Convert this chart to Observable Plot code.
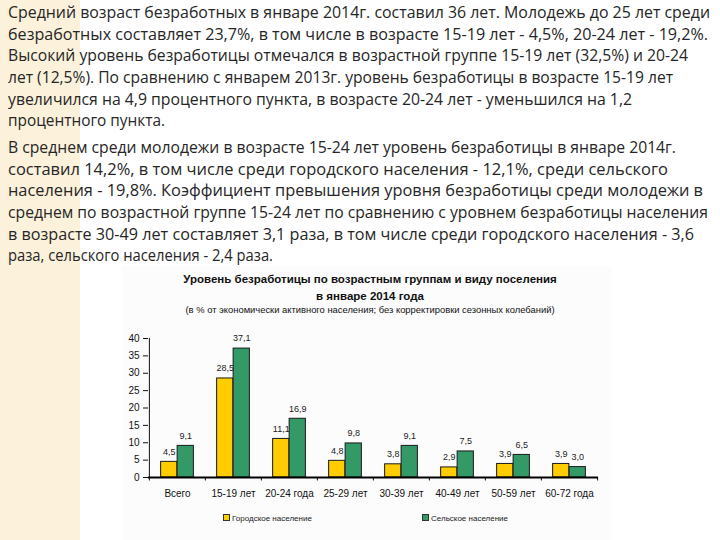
<!DOCTYPE html>
<html><head><meta charset="utf-8">
<script src="https://cdn.jsdelivr.net/npm/d3@7"></script>
<script src="https://cdn.jsdelivr.net/npm/@observablehq/plot@0.6"></script>
<style>
html,body{margin:0;padding:0;background:#fff;}
#page{position:relative;width:720px;height:540px;overflow:hidden;background:#fff;}
#strip{position:absolute;left:0;top:0;width:80px;height:540px;background:#fcf1db;}
#chartbg{position:absolute;left:122px;top:266px;width:490px;height:274px;background:#fcfcfc;}
.ln{position:absolute;left:8px;white-space:nowrap;font-family:"Open Sans",sans-serif;font-size:16px;line-height:21.6px;color:#262626;transform-origin:0 0;}
.ct{position:absolute;left:0;width:740px;text-align:center;font-family:"Liberation Sans",Arial,sans-serif;color:#111;white-space:nowrap;}
#chart{position:absolute;left:0;top:320px;}
.lg{position:absolute;top:513px;font-family:"Liberation Sans",Arial,sans-serif;font-size:8px;color:#222;white-space:nowrap;line-height:12px;}
.sw{display:inline-block;width:5px;height:5px;border:1px solid #333;margin-right:2px;vertical-align:0px;}
</style></head>
<body><div id="page">
<div id="strip"></div>
<div id="chartbg"></div>
<div id="text"></div>
<div class="ct" style="top:273px;font-size:11.5px;font-weight:bold;">Уровень безработицы по возрастным группам и виду поселения</div>
<div class="ct" style="top:290px;font-size:11.5px;font-weight:bold;">в январе 2014 года</div>
<div class="ct" style="top:304px;font-size:9.4px;">(в % от экономически активного населения; без корректировки сезонных колебаний)</div>
<div id="chart"></div>
<div id="legend"></div>
</div>
<script>
// ---- data ----
const categories = ["Всего", "15-19 лет", "20-24 года", "25-29 лет", "30-39 лет", "40-49 лет", "50-59 лет", "60-72 года"];
const urban = [4.5, 28.5, 11.1, 4.8, 3.8, 2.9, 3.9, 3.9];
const rural = [9.1, 37.1, 16.9, 9.8, 9.1, 7.5, 6.5, 3.0];
const seriesNames = ["Городское население", "Сельское население"];
const yTicks = [0, 5, 10, 15, 20, 25, 30, 35, 40];

// ---- paragraph text ----
const para1 = [
  "Средний возраст безработных в январе 2014г. составил 36 лет. Молодежь до 25 лет среди",
  "безработных составляет 23,7%, в том числе в возрасте 15-19 лет - 4,5%, 20-24 лет - 19,2%.",
  "Высокий уровень безработицы отмечался в возрастной группе 15-19 лет (32,5%) и 20-24",
  "лет (12,5%). По сравнению с январем 2013г. уровень безработицы в возрасте 15-19 лет",
  "увеличился на 4,9 процентного пункта, в возрасте 20-24 лет - уменьшился на 1,2",
  "процентного пункта."
];
const para2 = [
  "В среднем среди молодежи в возрасте 15-24 лет уровень безработицы в январе 2014г.",
  "составил 14,2%, в том числе среди городского населения - 12,1%, среди сельского",
  "населения - 19,8%. Коэффициент превышения уровня безработицы среди молодежи в",
  "среднем по возрастной группе 15-24 лет по сравнению с уровнем безработицы населения",
  "в возрасте 30-49 лет составляет 3,1 раза, в том числе среди городского населения - 3,6",
  "раза, сельского населения - 2,4 раза."
];
const ends1 = [710, 708, 688, 673, 632, 165];
const ends2 = [676, 668, 703, 708, 694, 273];

const textBox = document.getElementById("text");
function addLines(lines, ends, top0) {
  lines.forEach((s, i) => {
    const d = document.createElement("div");
    d.className = "ln";
    d.textContent = s;
    d.style.top = (top0 + i * 21.6) + "px";
    d.dataset.target = ends[i] - 8;
    textBox.appendChild(d);
  });
}
addLines(para1, ends1, 2.2);
addLines(para2, ends2, 137.2);
function fit() {
  document.querySelectorAll(".ln").forEach(d => {
    d.style.transform = "none";
    const w = d.getBoundingClientRect().width;
    d.style.transform = `scaleX(${(+d.dataset.target) / w})`;
  });
}
fit();
if (document.fonts && document.fonts.ready) document.fonts.ready.then(fit);

// ---- chart ----
const rows = categories.map((c, i) => ({category: c, urban: urban[i], rural: rural[i]}));
const fmt = v => v.toFixed(1).replace(".", ",");
const band = 450 / categories.length;
const half = band / 2;
const barW = 16.5;
const colors = ["#FFCC00", "#339966"];

const chart = Plot.plot({
  width: 720,
  height: 187,
  marginLeft: 148,
  marginRight: 122,
  marginTop: 18,
  marginBottom: 30,
  style: {background: "transparent", fontFamily: "Liberation Sans, Arial, sans-serif", fontSize: "10px", color: "#111", overflow: "visible"},
  x: {domain: categories, padding: 0, axis: null},
  y: {domain: [0, 40], ticks: yTicks, tickSize: 5, tickPadding: 4, label: null, tickFormat: d => String(d)},
  marks: [
    Plot.barY(rows, {x: "category", y: "urban", fill: colors[0], stroke: "#1a1a1a", strokeWidth: 1, insetLeft: half - barW, insetRight: half}),
    Plot.barY(rows, {x: "category", y: "rural", fill: colors[1], stroke: "#1a1a1a", strokeWidth: 1, insetLeft: half, insetRight: half - barW}),
    Plot.text(rows, {x: "category", y: "urban", text: d => fmt(d.urban), dx: -barW / 2, dy: -10, fontSize: 9, fill: "#222"}),
    Plot.text(rows, {x: "category", y: "rural", text: d => fmt(d.rural), dx: barW / 2, dy: -10, fontSize: 9, fill: "#222"}),
    Plot.text(categories, {x: d => d, y: () => 0, dy: 16, fontSize: 10, fill: "#111"}),
    Plot.ruleX([categories[0]], {y1: 0, y2: 40, dx: -half, stroke: "#111", strokeWidth: 1}),
    Plot.ruleX(categories, {y1: 0, y2: -1, dx: -half, stroke: "#111", strokeWidth: 1}),
    Plot.ruleX([categories[categories.length - 1]], {y1: 0, y2: -1, dx: half, stroke: "#111", strokeWidth: 1}),
    Plot.ruleY([0], {stroke: "#000", strokeWidth: 2})
  ]
});
document.getElementById("chart").appendChild(chart);

// ---- legend ----
const legend = document.getElementById("legend");
const lgX = [223, 422];
seriesNames.forEach((n, i) => {
  const d = document.createElement("div");
  d.className = "lg";
  d.style.left = lgX[i] + "px";
  d.innerHTML = `<span class="sw" style="background:${colors[i]}"></span>`;
  d.appendChild(document.createTextNode(n));
  legend.appendChild(d);
});
</script>
</body></html>
